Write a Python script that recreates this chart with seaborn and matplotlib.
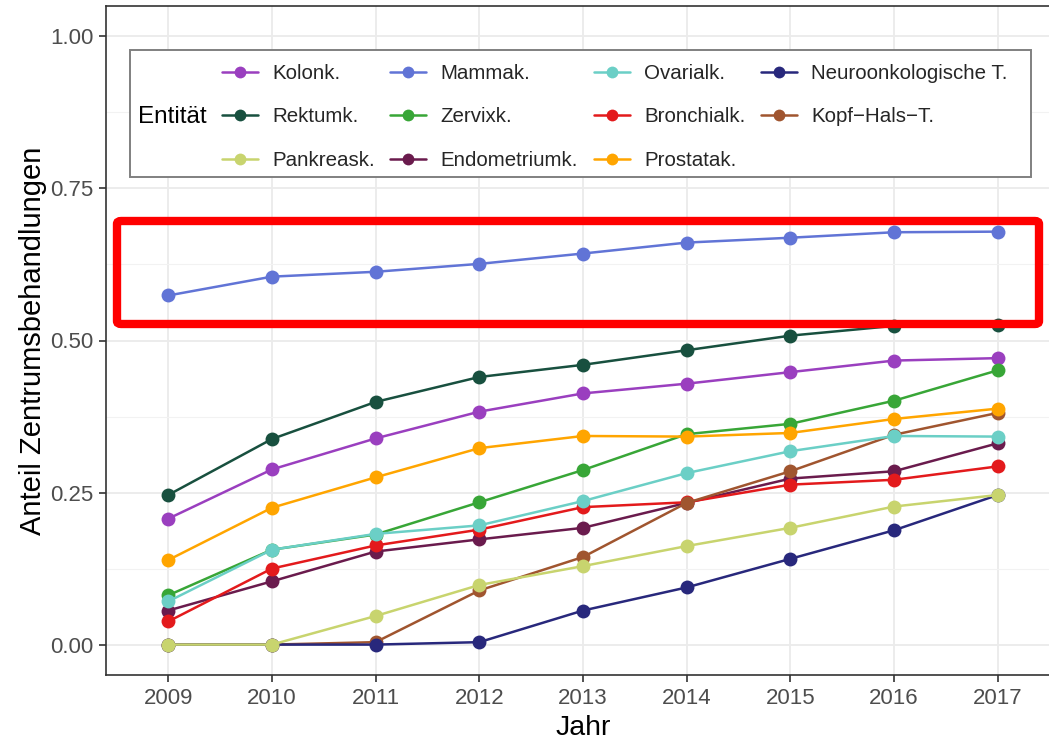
import matplotlib
matplotlib.use("Agg")
import matplotlib.pyplot as plt
from matplotlib.lines import Line2D
from matplotlib.patches import Rectangle, FancyBboxPatch
from matplotlib.ticker import MultipleLocator
import seaborn as sns
import pandas as pd

# Werte
years = ["2009", "2010", "2011", "2012", "2013", "2014", "2015", "2016", "2017"]

kolon = [0.207, 0.288, 0.339, 0.383, 0.413, 0.429, 0.448, 0.467, 0.471]
rektum = [0.246, 0.338, 0.399, 0.440, 0.460, 0.484, 0.508, 0.524, 0.525]
pankreas = [0.0, 0.0, 0.047, 0.098, 0.129, 0.162, 0.192, 0.227, 0.246]
mamma = [0.574, 0.605, 0.613, 0.626, 0.643, 0.661, 0.669, 0.678, 0.679]
zervix = [0.081, 0.156, 0.181, 0.234, 0.287, 0.346, 0.363, 0.401, 0.451]
endometrium = [0.056, 0.104, 0.153, 0.173, 0.192, 0.233, 0.273, 0.285, 0.331]
ovarial = [0.071, 0.156, 0.182, 0.196, 0.236, 0.282, 0.318, 0.343, 0.342]
bronchial = [0.038, 0.125, 0.163, 0.189, 0.226, 0.234, 0.263, 0.271, 0.293]
prostata = [0.139, 0.225, 0.275, 0.323, 0.343, 0.342, 0.348, 0.371, 0.388]
neuro = [0.0, 0.0, 0.0, 0.004, 0.056, 0.094, 0.141, 0.188, 0.246]
kopfhals = [0.0, 0.0, 0.004, 0.089, 0.144, 0.233, 0.285, 0.345, 0.381]

# Reihenfolge in der Legende (spaltenweise, 3 Zeilen)
legend_order = ["Kolonk.", "Rektumk.", "Pankreask.", "Mammak.", "Zervixk.",
                "Endometriumk.", "Ovarialk.", "Bronchialk.", "Prostatak.",
                "Neuroonkologische T.", "Kopf\u2212Hals\u2212T."]
# Zeichenreihenfolge (was oben liegt)
draw_order = ["Kolonk.", "Rektumk.", "Mammak.", "Zervixk.", "Endometriumk.",
              "Bronchialk.", "Kopf\u2212Hals\u2212T.", "Neuroonkologische T.",
              "Pankreask.", "Ovarialk.", "Prostatak."]

series = {
    "Kolonk.": kolon, "Rektumk.": rektum, "Pankreask.": pankreas,
    "Mammak.": mamma, "Zervixk.": zervix, "Endometriumk.": endometrium,
    "Ovarialk.": ovarial, "Bronchialk.": bronchial, "Prostatak.": prostata,
    "Neuroonkologische T.": neuro, "Kopf\u2212Hals\u2212T.": kopfhals,
}
colors = {
    "Kolonk.": "#9A3FBF", "Rektumk.": "#18503F", "Pankreask.": "#C8D46E",
    "Mammak.": "#6174D6", "Zervixk.": "#38A637", "Endometriumk.": "#6A1B4D",
    "Ovarialk.": "#6BCFC6", "Bronchialk.": "#E31A1C", "Prostatak.": "#FFA500",
    "Neuroonkologische T.": "#28287C", "Kopf\u2212Hals\u2212T.": "#A0552F",
}

rows = []
for name, vals in series.items():
    for i, v in enumerate(vals):
        rows.append({"Jahr": i, "Anteil": v, "Entität": name})
df = pd.DataFrame(rows)

sns.set_theme(style="whitegrid")
plt.rcParams["font.family"] = ["Liberation Sans", "DejaVu Sans"]

fig = plt.figure(figsize=(10.49, 7.47), dpi=100)
ax = fig.add_axes([106 / 1049, 72 / 747, 954 / 1049, 669 / 747])

sns.lineplot(data=df, x="Jahr", y="Anteil", hue="Entität", hue_order=draw_order,
             palette=colors, marker="o", markersize=10, markeredgewidth=0,
             linewidth=1.8, ax=ax, legend=False)

ax.set_xlim(-0.6, len(years) - 0.4)
ax.set_ylim(-0.05, 1.05)
ax.set_xticks(range(len(years)))
ax.set_xticklabels(years)
ax.yaxis.set_major_locator(MultipleLocator(0.25))
ax.yaxis.set_minor_locator(MultipleLocator(0.125))
ax.set_yticklabels([f"{t:.2f}" for t in ax.get_yticks()])
ax.grid(which="major", color="#EBEBEB", linewidth=1.3)
ax.grid(which="minor", axis="y", color="#F2F2F2", linewidth=0.8)
ax.grid(which="minor", axis="x", visible=False)
ax.set_facecolor("white")
for s in ax.spines.values():
    s.set_color("#333333")
    s.set_linewidth(1.2)
ax.tick_params(axis="both", which="major", length=5, width=1.2, color="#333333",
               labelsize=16, labelcolor="#4D4D4D", pad=4, left=True, bottom=True)
ax.tick_params(axis="y", which="minor", length=0)
ax.set_xlabel("Jahr", fontsize=20.5, color="black", labelpad=5)
ax.set_ylabel("Anteil Zentrumsbehandlungen", fontsize=21, color="black", labelpad=2)

# Legendenrahmen mit Titel links
fig.patches.append(Rectangle((130 / 1049, 570 / 747), 901 / 1049, 127 / 747,
                             transform=fig.transFigure, facecolor="white",
                             edgecolor="#808080", linewidth=1.4, zorder=5))
fig.text(138 / 1049, 1 - 117 / 747, "Entität", fontsize=17.5, va="center",
         ha="left", color="black", zorder=6)
handles = [Line2D([], [], color=colors[n], marker="o", markersize=8.5,
                  markeredgewidth=0, linewidth=1.8) for n in legend_order]
leg = fig.legend(handles, legend_order, ncol=4, loc="center left",
                 bbox_to_anchor=(222 / 1049, 1 - 117 / 747),
                 bbox_transform=fig.transFigure, frameon=False, fontsize=14.8,
                 handlelength=1.75, handletextpad=0.7, columnspacing=0.75,
                 labelspacing=1.2, borderpad=0, borderaxespad=0)
leg.set_zorder(7)

# roter Markierungsrahmen
fig.patches.append(FancyBboxPatch((117 / 1049, 423 / 747), 922 / 1049, 103 / 747,
                                  boxstyle="round,pad=0,rounding_size=0.004",
                                  transform=fig.transFigure, facecolor="none",
                                  edgecolor="#FF0000", linewidth=6, zorder=8))

fig.savefig("out.png", dpi=100)
plt.close(fig)
